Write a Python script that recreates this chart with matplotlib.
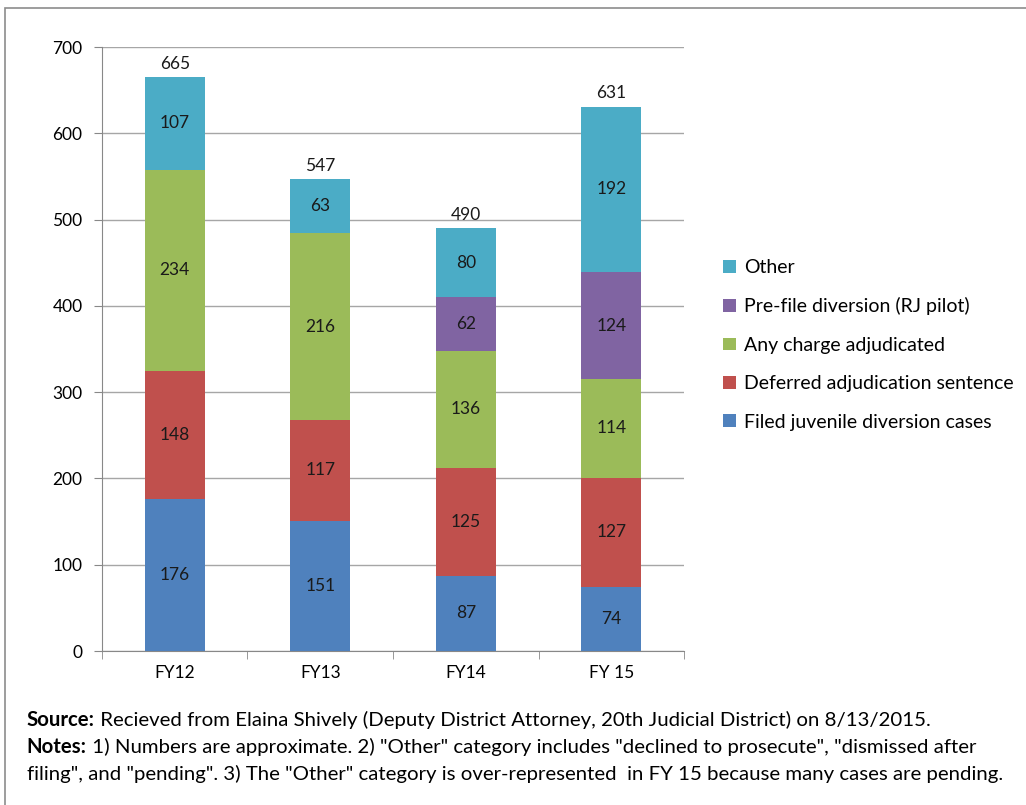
import numpy as np
import matplotlib
matplotlib.use("Agg")
import matplotlib.pyplot as plt
from matplotlib.patches import Rectangle

plt.rcParams["font.family"] = ["Lato", "DejaVu Sans"]

# ── Data ──────────────────────────────────────────────────────────
years = ["FY12", "FY13", "FY14", "FY 15"]
filed = [176, 151, 87, 74]
deferred = [148, 117, 125, 127]
adjudicated = [234, 216, 136, 114]
prefile = [0, 0, 62, 124]
other = [107, 63, 80, 192]

series = [
    ("Filed juvenile diversion cases", filed, "#4F81BD"),
    ("Deferred adjudication sentence", deferred, "#C0504D"),
    ("Any charge adjudicated", adjudicated, "#9BBB59"),
    ("Pre-file diversion (RJ pilot)", prefile, "#8064A2"),
    ("Other", other, "#4BACC6"),
]

fig = plt.figure(figsize=(10.26, 8.05), dpi=100)
ax = fig.add_axes([0.0994, 0.1913, 0.5673, 0.7503])

# outer frame of the chart area
fig.patches.append(Rectangle((5 / 1026, -0.05), 1.2, 1 - 8 / 805 + 0.05,
                             transform=fig.transFigure, fill=False,
                             edgecolor="#8c8c8c", linewidth=1.2))

x = np.arange(len(years))
bottom = np.zeros(len(years))
handles = []
for name, vals, col in series:
    vals = np.array(vals)
    h = ax.bar(x, vals, 0.41, bottom=bottom, color=col, zorder=3, label=name)
    handles.append(h)
    for xi, b, v in zip(x, bottom, vals):
        if v > 0:
            ax.text(xi, b + v / 2, str(v), ha="center", va="center",
                    fontsize=12.5, color="#1a1a1a", zorder=4)
    bottom += vals

for xi, tot in zip(x, bottom):
    ax.text(xi, tot + 6, str(int(tot)), ha="center", va="bottom",
            fontsize=12.5, color="#1a1a1a")

ax.set_xlim(-0.5, len(years) - 0.5)
ax.set_ylim(0, 700)
ax.set_yticks(range(0, 701, 100))
ax.set_xticks(x)
ax.set_xticklabels(years)
ax.set_xticks(np.arange(-0.5, len(years)), minor=True)
ax.tick_params(axis="x", which="major", length=0, pad=10, labelsize=12.5)
ax.tick_params(axis="x", which="minor", length=6, color="#888888", direction="out")
ax.tick_params(axis="y", length=6, color="#888888", pad=8, labelsize=12.5)
ax.grid(axis="y", color="#a6a6a6", linewidth=1.0, zorder=0)
for s in ["top", "right"]:
    ax.spines[s].set_visible(False)
for s in ["left", "bottom"]:
    ax.spines[s].set_color("#888888")

leg = fig.legend(handles=handles[::-1], loc="upper left",
                 bbox_to_anchor=(0.688, 0.7), frameon=False,
                 fontsize=14, handlelength=0.65, handleheight=0.65,
                 handletextpad=0.4, labelspacing=1.1)

# ── Footnotes ─────────────────────────────────────────────────────
fs = 14.7
x0 = 0.026
y0 = 1 - 720 / 805
dy = 27 / 805
notes = [
    ("Source:", " Recieved from Elaina Shively (Deputy District Attorney, 20th Judicial District) on 8/13/2015."),
    ("Notes:", " 1) Numbers are approximate. 2) \"Other\" category includes \"declined to prosecute\", \"dismissed after"),
    ("", "filing\", and \"pending\". 3) The \"Other\" category is over-represented  in FY 15 because many cases are pending."),
]
fig.canvas.draw()
renderer = fig.canvas.get_renderer()
for i, (head, body) in enumerate(notes):
    yy = y0 - i * dy
    xx = x0
    if head:
        t = fig.text(xx, yy, head, fontsize=fs, fontweight="bold", va="center")
        bb = t.get_window_extent(renderer)
        xx = bb.x1 / fig.bbox.width
    fig.text(xx, yy, body, fontsize=fs, va="center")

fig.savefig("out.png", dpi=100)
